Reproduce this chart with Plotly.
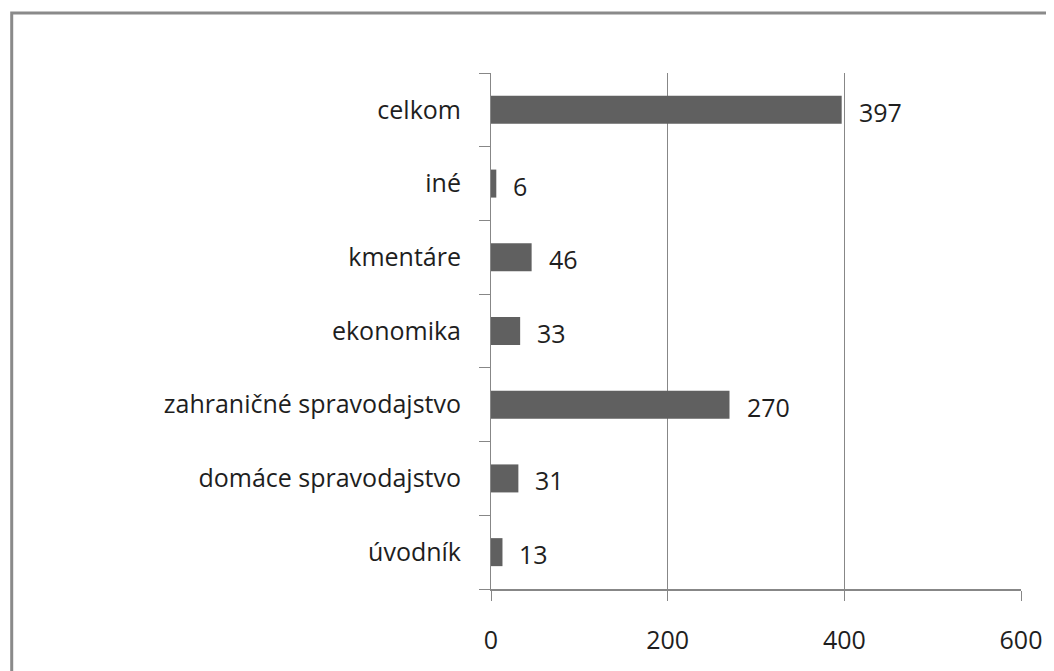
import plotly.graph_objects as go

categories = ["úvodník", "domáce spravodajstvo", "zahraničné spravodajstvo",
              "ekonomika", "kmentáre", "iné", "celkom"]
values = [13, 31, 270, 33, 46, 6, 397]
x_ticks = [0, 200, 400, 600]

# page is rendered with an 8px body offset, so compensate
OFF = 8
W, H = 1054 - OFF, 671 - OFF
L, R, T, B = 491 - OFF, 30, 73 - OFF, 82
pw, ph = W - L - R, H - T - B

FONT = "Open Sans"
FS = 25
GRID = "#878787"
BAR = "#606060"
TXT = "#1e1e1e"

fig = go.Figure()
fig.add_trace(go.Bar(
    x=values, y=categories, orientation="h",
    marker=dict(color=BAR, line=dict(width=0)),
    width=0.38, hoverinfo="x+y",
))

annotations = [
    dict(x=v, y=c, xref="x", yref="y", text=str(v), showarrow=False,
         xanchor="left", xshift=15, yshift=-2,
         font=dict(family=FONT, size=FS, color=TXT))
    for c, v in zip(categories, values)
]

# outer frame (only left & top visible in the reference)
fx0 = (9 - OFF - L) / pw
fy1 = 1 + (T - (13 - OFF)) / ph
shapes = [dict(type="rect", xref="paper", yref="paper",
               x0=fx0, x1=1.5, y0=-0.6, y1=fy1,
               line=dict(color="#8a8a8a", width=3), layer="below")]

fig.update_layout(
    width=W, height=H,
    margin=dict(l=L, r=R, t=T, b=B, pad=0),
    paper_bgcolor="white", plot_bgcolor="white",
    showlegend=False,
    annotations=annotations, shapes=shapes,
    font=dict(family=FONT, size=FS, color=TXT),
    xaxis=dict(range=[0, 600], tickvals=x_ticks, ticktext=[str(t) for t in x_ticks],
               showgrid=True, gridcolor=GRID, gridwidth=1,
               zeroline=False, showline=True, linecolor=GRID, linewidth=2,
               ticks="outside", ticklen=10, tickcolor=GRID, tickwidth=1,
               ticklabelstandoff=18,
               tickfont=dict(family=FONT, size=FS, color=TXT),
               fixedrange=True),
    yaxis=dict(categoryorder="array", categoryarray=categories,
               showgrid=False, zeroline=False, showline=True, linecolor=GRID,
               linewidth=1, ticks="outside", tickson="boundaries", ticklen=11,
               tickcolor=GRID, tickwidth=1, ticklabelstandoff=24,
               tickfont=dict(family=FONT, size=FS, color=TXT),
               fixedrange=True),
)

fig.write_html("out.html")
